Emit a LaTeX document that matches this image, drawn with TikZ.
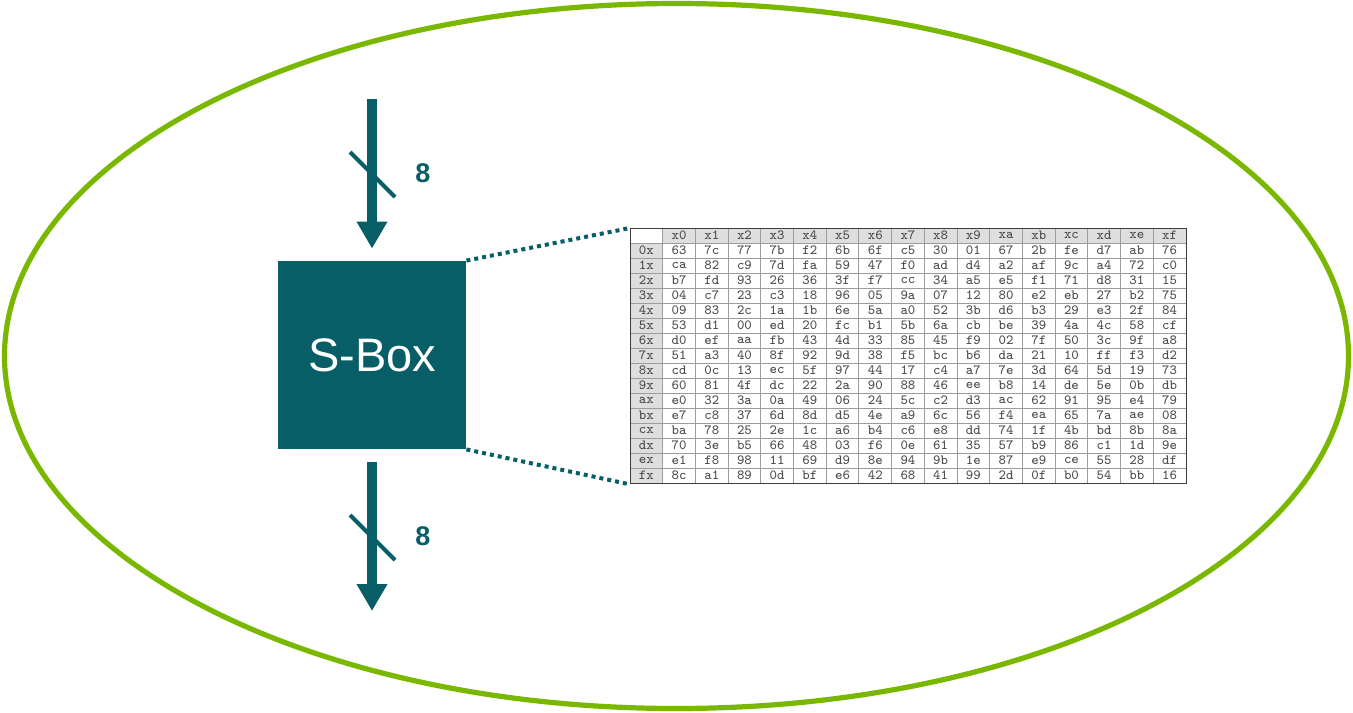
\documentclass[tikz,border=0pt]{standalone}
\usepackage{fontspec}
\setmainfont{Liberation Sans}
\usetikzlibrary{arrows.meta}
\definecolor{sboxteal}{HTML}{075E67}
\definecolor{ringgreen}{HTML}{7AB800}
\definecolor{headgray}{HTML}{DEDEDE}
\definecolor{rulegray}{HTML}{9C9C9C}
\definecolor{textgray}{HTML}{4A4A4A}
\definecolor{framegray}{HTML}{3C3C3C}
\tikzset{
  ring/.style={draw=ringgreen, line width=2.6pt},
  sboxnode/.style={fill=sboxteal, minimum size=94pt, inner sep=0pt, text=white,
    font=\fontsize{23.5pt}{26pt}\selectfont},
  busarrow/.style={draw=sboxteal, line width=5pt,
    -{Triangle[width=14.5pt,length=13.5pt]}},
  busslash/.style={draw=sboxteal, line width=2pt},
  buswidth/.style={text=sboxteal, font=\bfseries\fontsize{13.5pt}{15pt}\selectfont},
  zoomline/.style={draw=sboxteal, line width=2pt, dash pattern=on 2pt off 2pt},
  cellrule/.style={draw=rulegray, line width=0.45pt},
  tableframe/.style={draw=framegray, line width=0.7pt, minimum width=278pt,
    minimum height=127.5pt, inner sep=0pt},
  celltext/.style={text=textgray, inner sep=0pt, font=\ttfamily\fontsize{7pt}{7pt}\selectfont}
}
\begin{document}
\begin{tikzpicture}[x=0.5pt,y=-0.5pt]
\useasboundingbox (0,0) rectangle (1353,712);

% outer ring
\draw[ring] (676.5,356) ellipse [x radius=672, y radius=352.5];

% S-Box block
\node[sboxnode] (sbox) at (372,355) {S-Box};

% 8-bit input bus
\coordinate (busin) at (372,99);
\draw[busarrow, shorten >=6pt] (busin) -- (sbox.north);
\coordinate (slashinA) at (350,152);
\coordinate (slashinB) at (395,197);
\draw[busslash] (slashinA) -- (slashinB);
\node[buswidth] (widthin) at (423,173) {8};

% 8-bit output bus
\coordinate (busout) at (372,611);
\draw[busarrow, shorten <=6.5pt] (sbox.south) -- (busout);
\coordinate (slashoutA) at (350,515);
\coordinate (slashoutB) at (395,560);
\draw[busslash] (slashoutA) -- (slashoutB);
\node[buswidth] (widthout) at (423,536) {8};

% lookup table: 17 x 17 cells
\def\tx{630}\def\ty{228}\def\cw{32.7}\def\rh{15}
\fill[headgray] (\tx+\cw,\ty) rectangle (\tx+17*\cw,\ty+\rh);
\fill[headgray] (\tx,\ty+\rh) rectangle (\tx+\cw,\ty+17*\rh);
\foreach \k in {1,...,16} {
  \draw[cellrule] (\tx+\k*\cw,\ty) -- (\tx+\k*\cw,\ty+17*\rh);
  \draw[cellrule] (\tx,\ty+\k*\rh) -- (\tx+17*\cw,\ty+\k*\rh);
}
\node[tableframe, anchor=north west] (tbl) at (\tx,\ty) {};

% column headings
\foreach \h [count=\c] in {0,1,2,3,4,5,6,7,8,9,a,b,c,d,e,f}
  \node[celltext] (head-\c) at (\tx+\c*\cw+0.5*\cw,\ty+0.5*\rh) {x\h};

% rows
\foreach \rl/\vals [count=\r] in {
 0/{63,7c,77,7b,f2,6b,6f,c5,30,01,67,2b,fe,d7,ab,76},
 1/{ca,82,c9,7d,fa,59,47,f0,ad,d4,a2,af,9c,a4,72,c0},
 2/{b7,fd,93,26,36,3f,f7,cc,34,a5,e5,f1,71,d8,31,15},
 3/{04,c7,23,c3,18,96,05,9a,07,12,80,e2,eb,27,b2,75},
 4/{09,83,2c,1a,1b,6e,5a,a0,52,3b,d6,b3,29,e3,2f,84},
 5/{53,d1,00,ed,20,fc,b1,5b,6a,cb,be,39,4a,4c,58,cf},
 6/{d0,ef,aa,fb,43,4d,33,85,45,f9,02,7f,50,3c,9f,a8},
 7/{51,a3,40,8f,92,9d,38,f5,bc,b6,da,21,10,ff,f3,d2},
 8/{cd,0c,13,ec,5f,97,44,17,c4,a7,7e,3d,64,5d,19,73},
 9/{60,81,4f,dc,22,2a,90,88,46,ee,b8,14,de,5e,0b,db},
 a/{e0,32,3a,0a,49,06,24,5c,c2,d3,ac,62,91,95,e4,79},
 b/{e7,c8,37,6d,8d,d5,4e,a9,6c,56,f4,ea,65,7a,ae,08},
 c/{ba,78,25,2e,1c,a6,b4,c6,e8,dd,74,1f,4b,bd,8b,8a},
 d/{70,3e,b5,66,48,03,f6,0e,61,35,57,b9,86,c1,1d,9e},
 e/{e1,f8,98,11,69,d9,8e,94,9b,1e,87,e9,ce,55,28,df},
 f/{8c,a1,89,0d,bf,e6,42,68,41,99,2d,0f,b0,54,bb,16}} {
  \node[celltext] (row-\r) at (\tx+0.5*\cw,\ty+\r*\rh+0.5*\rh) {\rl x};
  \foreach \v [count=\c] in \vals
    \node[celltext] (cell-\r-\c) at (\tx+\c*\cw+0.5*\cw,\ty+\r*\rh+0.5*\rh) {\v};
}

% zoom lines from the block to the table
\draw[zoomline] (sbox.north east) -- (tbl.north west);
\draw[zoomline] (sbox.south east) -- (tbl.south west);
\end{tikzpicture}
\end{document}
